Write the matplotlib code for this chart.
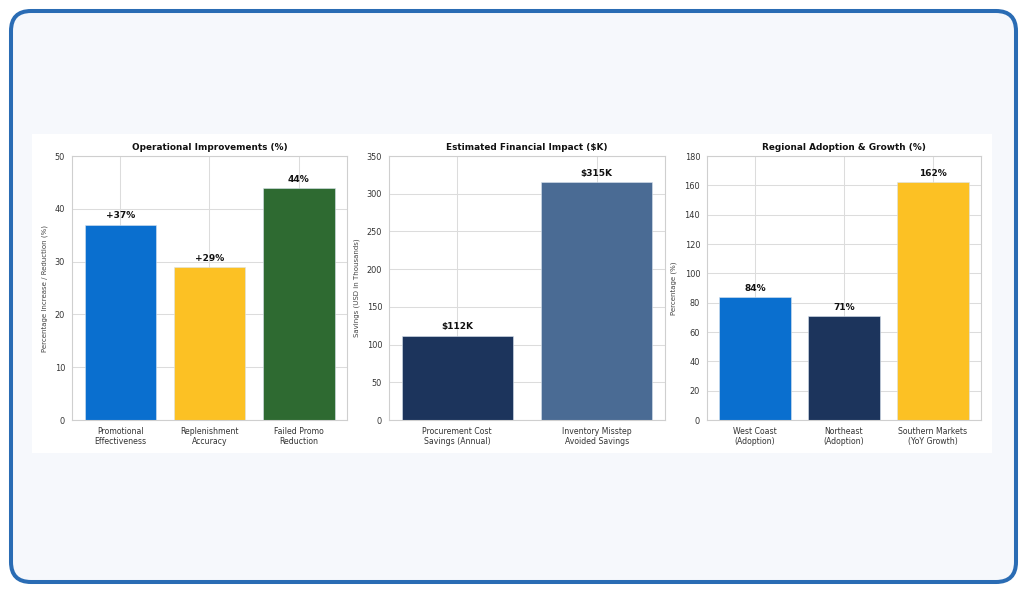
#!/usr/bin/env python3
"""Three-panel bar summary: operations, financial impact, regional growth."""

import matplotlib
matplotlib.use("Agg")
import matplotlib.pyplot as plt
from matplotlib.patches import FancyBboxPatch, Rectangle
from matplotlib.transforms import IdentityTransform

# --- data -------------------------------------------------------------
ops_labels = ["Promotional\nEffectiveness", "Replenishment\nAccuracy", "Failed Promo\nReduction"]
ops_values = [37, 29, 44]
ops_text = ["+37%", "+29%", "44%"]

fin_labels = ["Procurement Cost\nSavings (Annual)", "Inventory Misstep\nAvoided Savings"]
fin_values = [112, 315]
fin_text = ["$112K", "$315K"]

reg_labels = ["West Coast\n(Adoption)", "Northeast\n(Adoption)", "Southern Markets\n(YoY Growth)"]
reg_values = [84, 71, 162]
reg_text = ["84%", "71%", "162%"]

BLUE = "#0a6fcf"
YELLOW = "#fcc124"
GREEN = "#2e6a31"
NAVY = "#1c345c"
STEEL = "#4a6b94"

W, H = 1026, 589
fig = plt.figure(figsize=(W / 100, H / 100), dpi=100, facecolor="white")

# rounded frame and white chart card (pixel coordinates)
frame = FancyBboxPatch((11, 7), 1005, 571, boxstyle="round,pad=0,rounding_size=20",
                       facecolor="#f6f8fc", edgecolor="#2a6cb4", linewidth=2.9,
                       transform=IdentityTransform(), zorder=-2)
fig.patches.append(frame)
card = Rectangle((32, 136), 960, 319, facecolor="white", edgecolor="none",
                 transform=IdentityTransform(), zorder=-1)
fig.patches.append(card)


def panel(left_px, width_px, labels, values, texts, colors, title, ylabel, ymax, step):
    ax = fig.add_axes([left_px / W, (H - 420) / H, width_px / W, 264 / H])
    ax.set_zorder(2)
    ax.set_facecolor("white")
    ax.set_axisbelow(True)
    x = list(range(len(values)))
    bars = ax.bar(x, values, width=0.8, color=colors, edgecolor="#d9e3ee", linewidth=0.4)
    for b, t in zip(bars, texts):
        ax.annotate(t, (b.get_x() + b.get_width() / 2, b.get_height()),
                    xytext=(0, 3), textcoords="offset points",
                    ha="center", va="bottom", fontsize=6.5, fontweight="bold", color="#111111")
    ax.set_ylim(0, ymax)
    ax.set_yticks(range(0, ymax + 1, step))
    ax.set_xticks(x)
    ax.set_xticklabels(labels, fontsize=5.6, color="#333333")
    ax.tick_params(axis="y", labelsize=5.9, labelcolor="#333333", length=0, pad=5)
    ax.tick_params(axis="x", length=0, pad=5)
    ax.set_title(title, fontsize=6.4, fontweight="bold", pad=4, color="#111111")
    ax.set_ylabel(ylabel, fontsize=5.0, color="#444444", labelpad=5)
    ax.grid(True, color="#dcdcdc", linewidth=0.75)
    for s in ax.spines.values():
        s.set_color("#cfcfcf")
        s.set_linewidth(0.8)
    return ax


panel(72, 275, ops_labels, ops_values, ops_text, [BLUE, YELLOW, GREEN],
      "Operational Improvements (%)", "Percentage Increase / Reduction (%)", 50, 10)
panel(389, 276, fin_labels, fin_values, fin_text, [NAVY, STEEL],
      "Estimated Financial Impact ($K)", "Savings (USD in Thousands)", 350, 50)
panel(707, 274, reg_labels, reg_values, reg_text, [BLUE, NAVY, YELLOW],
      "Regional Adoption & Growth (%)", "Percentage (%)", 180, 20)

fig.savefig("out.png", dpi=100, facecolor="white")
